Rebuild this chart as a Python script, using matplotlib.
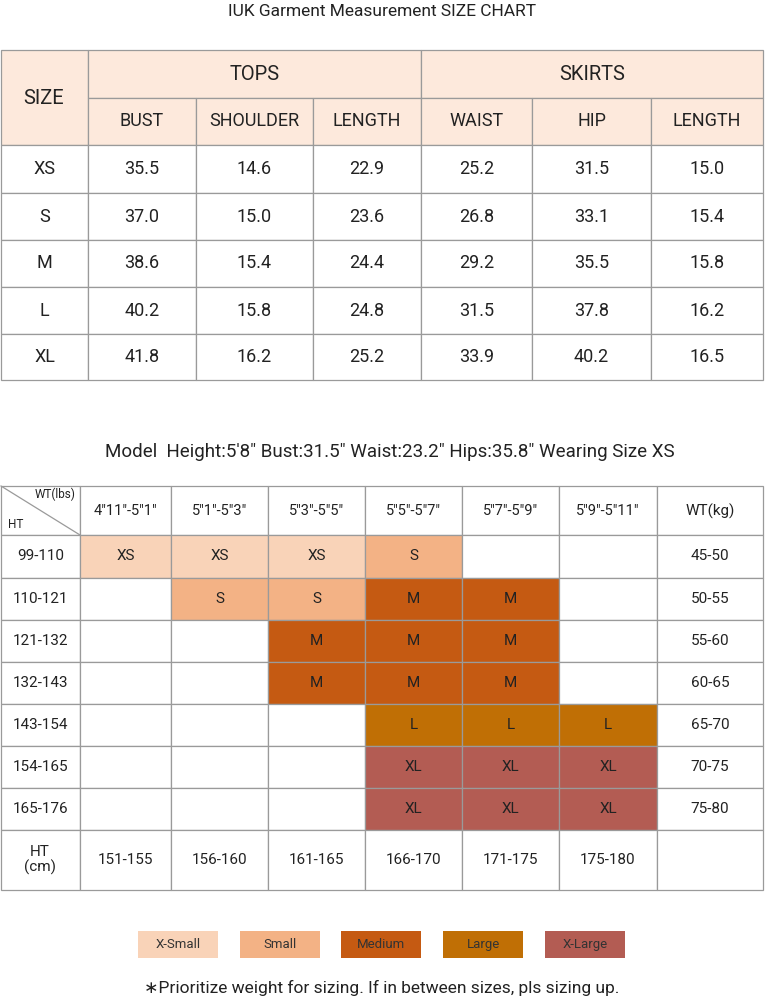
import matplotlib.pyplot as plt
from matplotlib.patches import Rectangle

plt.rcParams["font.family"] = ["Roboto", "DejaVu Sans"]

# ---- data ----
SIZES = ["XS", "S", "M", "L", "XL"]
BUST = [35.5, 37.0, 38.6, 40.2, 41.8]
SHOULDER = [14.6, 15.0, 15.4, 15.8, 16.2]
TOP_LENGTH = [22.9, 23.6, 24.4, 24.8, 25.2]
WAIST = [25.2, 26.8, 29.2, 31.5, 33.9]
HIP = [31.5, 33.1, 35.5, 37.8, 40.2]
SKIRT_LENGTH = [15.0, 15.4, 15.8, 16.2, 16.5]

HEIGHTS_FT = ["4\u203311\u2033-5\u20331\u2033", "5\u20331\u2033-5\u20333\u2033", "5\u20333\u2033-5\u20335\u2033",
              "5\u20335\u2033-5\u20337\u2033", "5\u20337\u2033-5\u20339\u2033", "5\u20339\u2033-5\u203311\u2033"]
WT_LBS = ["99-110", "110-121", "121-132", "132-143", "143-154", "154-165", "165-176"]
WT_KG = ["45-50", "50-55", "55-60", "60-65", "65-70", "70-75", "75-80"]
HT_CM = ["151-155", "156-160", "161-165", "166-170", "171-175", "175-180"]
GRID = [
    ["XS", "XS", "XS", "S", "", ""],
    ["", "S", "S", "M", "M", ""],
    ["", "", "M", "M", "M", ""],
    ["", "", "M", "M", "M", ""],
    ["", "", "", "L", "L", "L"],
    ["", "", "", "XL", "XL", "XL"],
    ["", "", "", "XL", "XL", "XL"],
]
LEGEND = ["X-Small", "Small", "Medium", "Large", "X-Large"]
COLORS = {"XS": "#F9D3B8", "S": "#F3B285", "M": "#C55A12", "L": "#C06F05", "XL": "#B35C53"}
HEADER_BG = "#FDE9DC"
LINE = "#9a9a9a"
INK = "#222222"

fig = plt.figure(figsize=(7.65, 10), dpi=100)
ax = fig.add_axes([0, 0, 1, 1])
ax.set_xlim(0, 765); ax.set_ylim(1000, 0); ax.axis("off")


def cell(x0, y0, x1, y1, fc="white"):
    ax.add_patch(Rectangle((x0, y0), x1 - x0, y1 - y0, facecolor=fc, edgecolor=LINE, linewidth=0.9))


def txt(x, y, s, size=13, color=INK, **kw):
    ax.text(x, y, s, ha="center", va="center", fontsize=size, color=color, **kw)


# ---- table 1 ----
txt(382, 12, "IUK Garment Measurement SIZE CHART", size=12.5)
cx = [1, 88, 196, 313, 421, 532, 651, 763]
ry = [50, 98, 145, 193, 240, 287, 334, 380]
cell(cx[0], ry[0], cx[1], ry[2], HEADER_BG); txt(44, 98, "SIZE", size=14.5)
cell(cx[1], ry[0], cx[4], ry[1], HEADER_BG); txt((cx[1] + cx[4]) / 2, 74, "TOPS", size=14.5)
cell(cx[4], ry[0], cx[7], ry[1], HEADER_BG); txt((cx[4] + cx[7]) / 2, 74, "SKIRTS", size=14.5)
for j, h in enumerate(["BUST", "SHOULDER", "LENGTH", "WAIST", "HIP", "LENGTH"]):
    cell(cx[j + 1], ry[1], cx[j + 2], ry[2], HEADER_BG)
    txt((cx[j + 1] + cx[j + 2]) / 2, (ry[1] + ry[2]) / 2, h, size=13)
cols = [SIZES, BUST, SHOULDER, TOP_LENGTH, WAIST, HIP, SKIRT_LENGTH]
for i in range(len(SIZES)):
    for j, col in enumerate(cols):
        cell(cx[j], ry[i + 2], cx[j + 1], ry[i + 3])
        v = col[i] if j == 0 else f"{col[i]:.1f}"
        txt((cx[j] + cx[j + 1]) / 2, (ry[i + 2] + ry[i + 3]) / 2, v, size=13)

# ---- table 2 ----
txt(390, 452, 'Model  Height:5\'8" Bust:31.5" Waist:23.2" Hips:35.8" Wearing Size XS', size=13.5)
gx = [1, 80, 171, 268, 365, 462, 559, 657, 763]
gy = [486, 535, 578, 620, 662, 704, 746, 788, 830, 890]
cell(gx[0], gy[0], gx[1], gy[1])
ax.plot([gx[0], gx[1]], [gy[0], gy[1]], color=LINE, lw=0.9)
ax.text(76, 494, "WT(lbs)", ha="right", va="center", fontsize=8.5, color=INK)
ax.text(8, 524, "HT", ha="left", va="center", fontsize=8.5, color=INK)
for j, h in enumerate(HEIGHTS_FT):
    cell(gx[j + 1], gy[0], gx[j + 2], gy[1])
    txt((gx[j + 1] + gx[j + 2]) / 2, 511, h, size=10.5)
cell(gx[7], gy[0], gx[8], gy[1]); txt((gx[7] + gx[8]) / 2, 511, "WT(kg)", size=11)
for i, lbs in enumerate(WT_LBS):
    y0, y1 = gy[i + 1], gy[i + 2]
    cell(gx[0], y0, gx[1], y1); txt((gx[0] + gx[1]) / 2, (y0 + y1) / 2, lbs, size=11)
    for j, s in enumerate(GRID[i]):
        cell(gx[j + 1], y0, gx[j + 2], y1, COLORS.get(s, "white"))
        if s:
            txt((gx[j + 1] + gx[j + 2]) / 2, (y0 + y1) / 2, s, size=11)
    cell(gx[7], y0, gx[8], y1); txt((gx[7] + gx[8]) / 2, (y0 + y1) / 2, WT_KG[i], size=11)
y0, y1 = gy[8], gy[9]
cell(gx[0], y0, gx[1], y1); txt(40, (y0 + y1) / 2, "HT\n(cm)", size=11, linespacing=1.1)
for j, c in enumerate(HT_CM):
    cell(gx[j + 1], y0, gx[j + 2], y1); txt((gx[j + 1] + gx[j + 2]) / 2, (y0 + y1) / 2, c, size=11)
cell(gx[7], y0, gx[8], y1)

# ---- legend ----
for k, (lab, key) in enumerate(zip(LEGEND, ["XS", "S", "M", "L", "XL"])):
    x0 = 138 + k * 101.7
    ax.add_patch(Rectangle((x0, 931), 80, 27, facecolor=COLORS[key], edgecolor="none"))
    txt(x0 + 40, 944.5, lab, size=9.5, color="#333333")

txt(382, 988, "\u2217Prioritize weight for sizing. If in between sizes, pls sizing up.", size=12.5)

fig.savefig("out.png", dpi=100, facecolor="white")
